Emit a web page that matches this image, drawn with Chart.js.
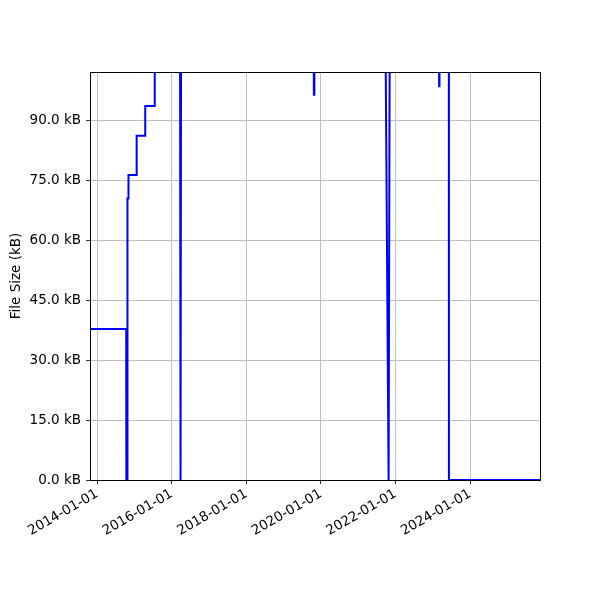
<!DOCTYPE html>
<html>
<head>
  <title>File Size History</title>
  <script src="https://cdn.jsdelivr.net/npm/chart.js"></script>
  <style>
    body { margin: 0; background: #fff; }
    canvas { display: block; }
  </style>
</head>
<body>
  <canvas id="sizeChart" width="600" height="600"></canvas>

  <script>
    // file size over time (kB); values above ~102 run off the top of the plot
    const commitDates = [
      "2013-10-22", "2014-10-12", "2014-10-13", "2014-10-21", "2014-10-22",
      "2014-10-25", "2014-10-25", "2014-11-03", "2014-11-03",
      "2015-01-22", "2015-01-22", "2015-04-16", "2015-04-16",
      "2015-07-17", "2015-07-18", "2016-03-22", "2016-03-26", "2016-03-28", "2016-04-01",
      "2017-06-01", "2018-09-01", "2019-10-21", "2019-10-24", "2019-10-26", "2019-10-29",
      "2020-08-01", "2021-09-27", "2021-10-25", "2021-11-04",
      "2022-06-01", "2023-03-01", "2023-03-04", "2023-03-06", "2023-03-09",
      "2023-06-07", "2023-06-08", "2025-11-16"
    ];
    const fileSizes = [
      37.8, 37.8, 0, 0, 56,
      56, 70.5, 70.5, 76.4,
      76.4, 86.2, 86.2, 93.7,
      93.7, 115, 115, 0, 0, 115,
      118, 120, 115, 96.5, 96.5, 115,
      118, 103, 0, 103,
      115, 115, 98.6, 98.6, 115,
      115, 0, 0
    ];
    const tickDates = ["2014-01-01", "2016-01-01", "2018-01-01", "2020-01-01", "2022-01-01", "2024-01-01"];
    const sizeTicks = [0, 15, 30, 45, 60, 75, 90];
    const xStart = "2013-10-22";
    const xEnd = "2025-11-16";
    const yMax = 102.2;

    const ctx = document.getElementById("sizeChart").getContext("2d");
    const font = { family: "DejaVu Sans", size: 13.5 };

    const frame = {
      id: "frame",
      afterDatasetsDraw(chart) {
        const a = chart.chartArea;
        const c = chart.ctx;
        c.save();
        c.strokeStyle = "#000";
        c.lineWidth = 1;
        c.strokeRect(Math.round(a.left) + 0.5, Math.round(a.top) + 0.5,
                     Math.round(a.right - a.left), Math.round(a.bottom - a.top));
        c.restore();
      }
    };

    new Chart(ctx, {
      type: "line",
      data: {
        datasets: [{
          data: commitDates.map((d, i) => ({ x: Date.parse(d), y: fileSizes[i] })),
          borderColor: "#0000ff",
          borderWidth: 2,
          pointRadius: 0,
          tension: 0,
          fill: false
        }]
      },
      options: {
        responsive: false,
        animation: false,
        layout: { padding: { top: 72, right: 60, left: 0, bottom: 0 } },
        plugins: { legend: { display: false }, tooltip: { enabled: false } },
        scales: {
          x: {
            type: "linear",
            min: Date.parse(xStart),
            max: Date.parse(xEnd),
            afterBuildTicks: (s) => { s.ticks = tickDates.map(d => ({ value: Date.parse(d) })); },
            afterFit: (s) => { s.height = 120; },
            grid: { color: "#b0b0b0", lineWidth: 0.8, tickColor: "#000", tickLength: 4 },
            border: { color: "#000", width: 1 },
            ticks: {
              color: "#000",
              font: font,
              autoSkip: false,
              maxRotation: 30,
              minRotation: 30,
              padding: 2,
              callback: (v) => new Date(v).toISOString().slice(0, 10)
            }
          },
          y: {
            min: 0,
            max: yMax,
            afterBuildTicks: (s) => { s.ticks = sizeTicks.map(v => ({ value: v })); },
            afterFit: (s) => { s.width = 90; },
            grid: { color: "#b0b0b0", lineWidth: 0.8, tickColor: "#000", tickLength: 4 },
            border: { color: "#000", width: 1 },
            ticks: {
              color: "#000",
              font: font,
              padding: 5,
              callback: (v) => v.toFixed(1) + " kB"
            },
            title: {
              display: true,
              text: "File Size (kB)",
              color: "#000",
              font: font,
              padding: { top: 8, bottom: 4 }
            }
          }
        }
      },
      plugins: [frame]
    });
  </script>
</body>
</html>
